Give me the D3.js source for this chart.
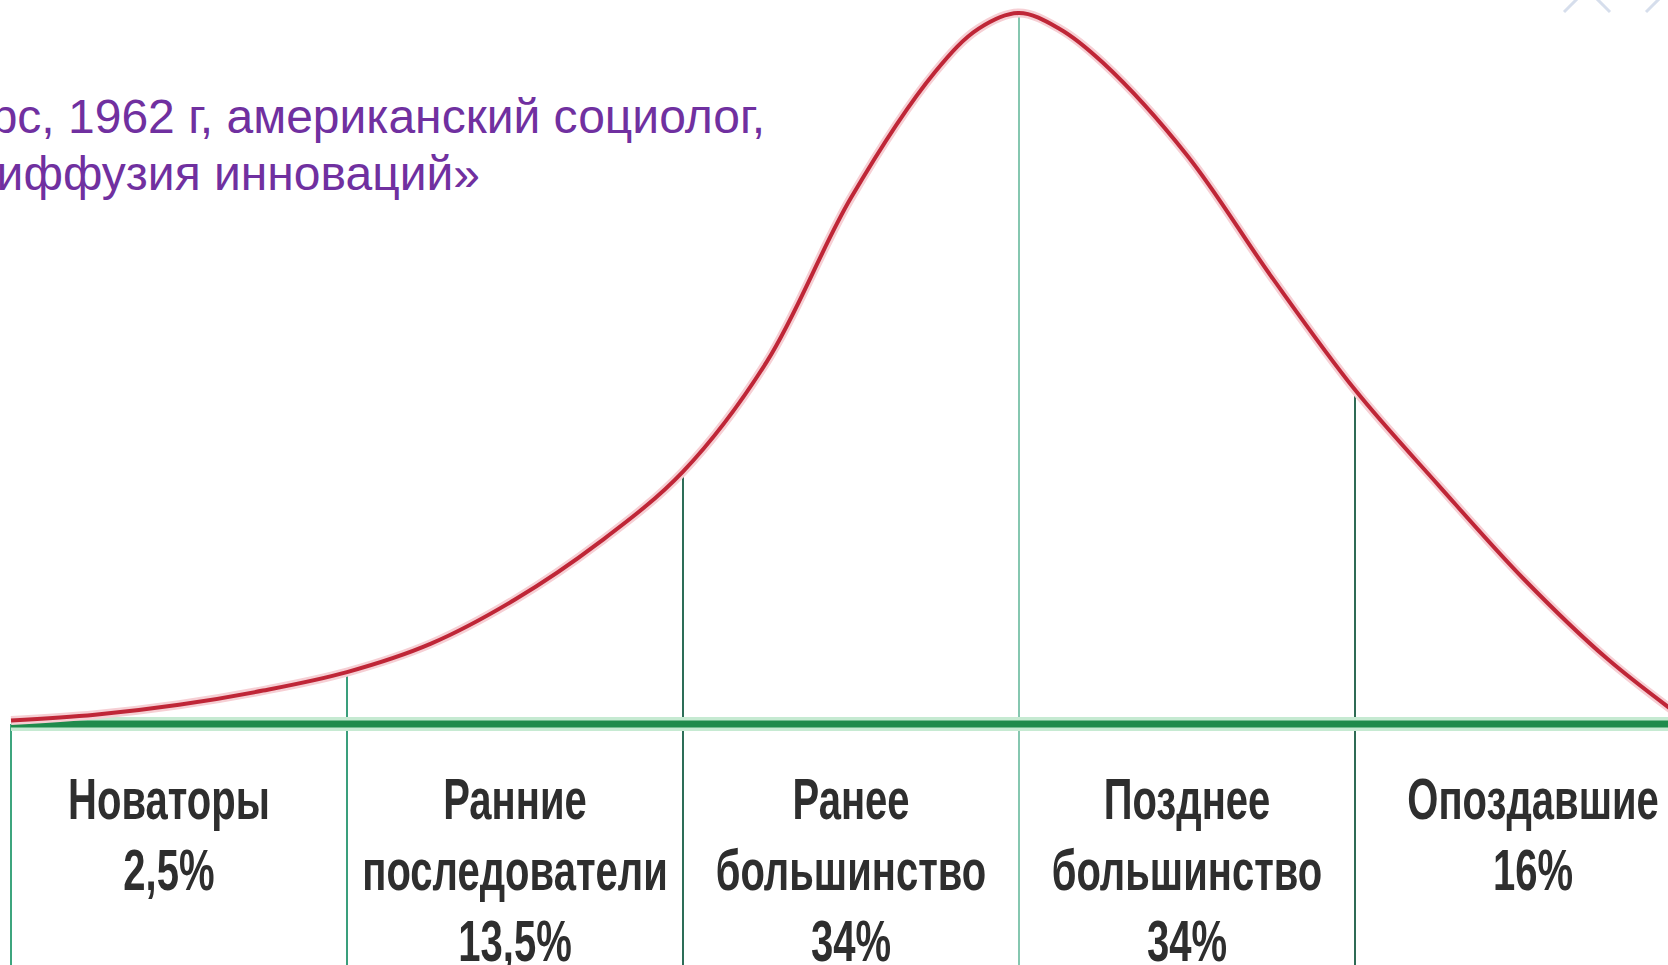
<!DOCTYPE html>
<html>
<head>
<meta charset="utf-8">
<script src="https://cdn.jsdelivr.net/npm/d3@7"></script>
<style>
  html, body { margin: 0; padding: 0; background: #fff; overflow: hidden; }
  svg { display: block; }
</style>
</head>
<body>
<div id="app"></div>
<script>
// curve of adopters, x in standard deviations, y as share of the peak
var curveX = [-3, -2.75, -2.5, -2.25, -2, -1.75, -1.5, -1.25, -1, -0.75, -0.5, -0.25, -0.12, 0, 0.12, 0.25, 0.5, 0.75, 1, 1.25, 1.5, 1.75, 2];
var curveY = [0.005, 0.013, 0.027, 0.047, 0.073, 0.113, 0.175, 0.255, 0.355, 0.51, 0.74, 0.917, 0.978, 1, 0.978, 0.93, 0.8, 0.63, 0.47, 0.335, 0.205, 0.092, 0];

var bounds = [-3, -2, -1, 0, 1];
var groupNames = ['Новаторы', 'Ранние последователи', 'Ранее большинство', 'Позднее большинство', 'Опоздавшие'];
var shares = ['2,5%', '13,5%', '34%', '34%', '16%'];
var labelPos = [-2.53, -1.5, -0.5, 0.5, 1.53];

var titleLines = ['Эверетт Роджерс, 1962 г, американский социолог,', '«Диффузия инноваций»'];

var width = 1668, height = 965;

var svg = d3.select('#app')
  .append('svg')
    .attr('width', width)
    .attr('height', height);

var x = d3.scaleLinear()
    .domain([-3, 2])
    .range([11, 1691]);

var y = d3.scaleLinear()
    .domain([0, 1])
    .range([724, 13]);

var pts = curveX.map(function(d, i){ return [d, curveY[i]]; });

function curveAt(v){
    var i = curveX.indexOf(v);
    return i < 0 ? 0 : curveY[i];
}

// faint decoration from the slide, top right
svg.append('g')
    .attr('stroke', '#d6deec')
    .attr('stroke-width', 3)
  .selectAll('line')
    .data([[1564, 12, 1580, -4], [1594, -4, 1610, 12], [1646, 12, 1662, -4]])
  .enter().append('line')
    .attr('x1', function(d){ return d[0]; })
    .attr('y1', function(d){ return d[1]; })
    .attr('x2', function(d){ return d[2]; })
    .attr('y2', function(d){ return d[3]; });

// vertical dividers
var lineColors = ['#3da57e', '#3a9f7c', '#2d6e58', '#86c7b0', '#2f6b55'];
svg.append('g')
  .selectAll('line')
    .data(bounds)
  .enter().append('line')
    .attr('x1', function(d){ return x(d); })
    .attr('x2', function(d){ return x(d); })
    .attr('y1', function(d){ return d === -3 ? y(0) : y(curveAt(d)); })
    .attr('y2', height)
    .attr('stroke', function(d, i){ return lineColors[i]; })
    .attr('stroke-width', 2);

// baseline
svg.append('line')
    .attr('x1', x(-3)).attr('x2', width)
    .attr('y1', y(0)).attr('y2', y(0))
    .attr('stroke', '#c6ead2')
    .attr('stroke-width', 14);
svg.append('line')
    .attr('x1', x(-3)).attr('x2', width)
    .attr('y1', y(0)).attr('y2', y(0))
    .attr('stroke', '#1f8b4c')
    .attr('stroke-width', 7);

// curve
var line = d3.line()
    .x(function(d){ return x(d[0]); })
    .y(function(d){ return y(d[1]); })
    .curve(d3.curveCatmullRom.alpha(0.5));

svg.append('path')
    .datum(pts)
    .attr('d', line)
    .attr('fill', 'none')
    .attr('stroke', '#f6cfd4')
    .attr('stroke-width', 9);
svg.append('path')
    .datum(pts)
    .attr('d', line)
    .attr('fill', 'none')
    .attr('stroke', '#bf2637')
    .attr('stroke-width', 4);

// group labels
var labels = svg.append('g')
    .attr('fill', '#2e2e2e')
    .style('font-family', "'Liberation Sans', Arial, sans-serif")
    .style('font-weight', 'bold')
    .style('font-size', '58px');

groupNames.forEach(function(name, i){
    var rows = name.split(' ').concat([shares[i]]);
    rows.forEach(function(r, j){
        labels.append('text')
            .attr('transform', 'translate(' + x(labelPos[i]) + ',' + (819 + j * 71) + ') scale(0.69,1)')
            .attr('text-anchor', 'middle')
            .text(r);
    });
});

// title, cut at the left edge like the slide
svg.append('g')
    .attr('fill', '#7030a0')
    .style('font-family', "'Liberation Sans', Arial, sans-serif")
    .style('font-size', '48px')
  .selectAll('text')
    .data(titleLines)
  .enter().append('text')
    .attr('text-anchor', 'end')
    .attr('x', function(d, i){ return i === 0 ? 765 : 480; })
    .attr('y', function(d, i){ return 133 + i * 57; })
    .text(function(d){ return d; });
</script>
</body>
</html>
